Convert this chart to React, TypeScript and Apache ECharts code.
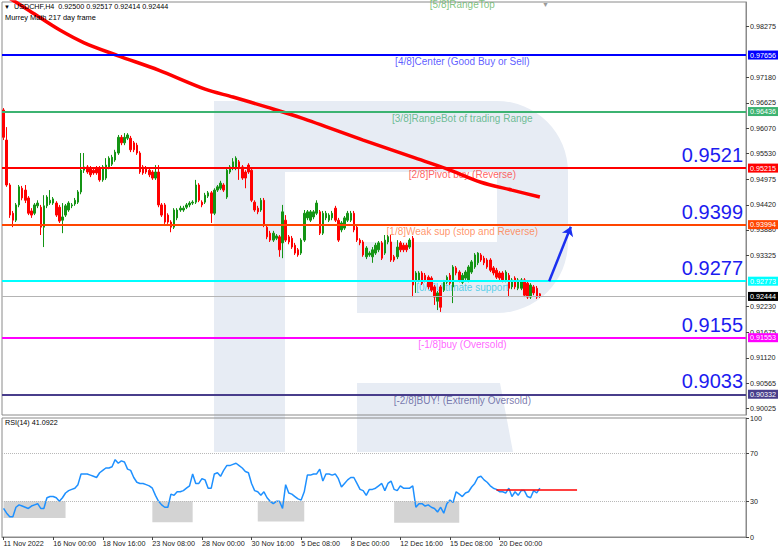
import React, { useEffect, useRef } from "react";
import * as echarts from "echarts";

const FONT = "'Liberation Sans', Arial, sans-serif";

// ---- time axis ----
const slotCount = 240;
const tickStep = 16;
const tickLabels = ["11 Nov 2022", "16 Nov 00:00", "18 Nov 16:00", "23 Nov 08:00", "28 Nov 00:00", "30 Nov 16:00", "5 Dec 08:00", "8 Dec 00:00", "12 Dec 16:00", "15 Dec 08:00", "20 Dec 00:00"];

// ---- price axis ----
const yMin = 0.89884;
const yMax = 0.98801;
const priceTicks = [0.98275, 0.9718, 0.96625, 0.9607, 0.9553, 0.94975, 0.9442, 0.9388, 0.93325, 0.9223, 0.91675, 0.9112, 0.90565, 0.90025];
const rsiTicks = [0, 30, 70, 100];

// ---- candles: [open, close, low, high] ----
const candles = [
  [0.9647, 0.9588, 0.9582, 0.9651], [0.9582, 0.9485, 0.9481, 0.961], [0.9485, 0.942, 0.9414, 0.9489], [0.9424, 0.9409, 0.9394, 0.9429],
  [0.9409, 0.9442, 0.9405, 0.9446], [0.9442, 0.9481, 0.9437, 0.9485], [0.9478, 0.9457, 0.9452, 0.9483], [0.9474, 0.9452, 0.9446, 0.9485],
  [0.9457, 0.9424, 0.942, 0.9461], [0.9429, 0.942, 0.9414, 0.9435], [0.9424, 0.9442, 0.942, 0.9446], [0.944, 0.9446, 0.9435, 0.9452],
  [0.9437, 0.9394, 0.9377, 0.9442], [0.9394, 0.944, 0.9351, 0.9463], [0.944, 0.9459, 0.9435, 0.9463], [0.9446, 0.9452, 0.9442, 0.9474],
  [0.9446, 0.9455, 0.9442, 0.9459], [0.9446, 0.942, 0.9416, 0.945], [0.9437, 0.9407, 0.9403, 0.9442], [0.9409, 0.9416, 0.9381, 0.9446],
  [0.942, 0.944, 0.9416, 0.9444], [0.9431, 0.9446, 0.9427, 0.945], [0.944, 0.9442, 0.9435, 0.9446], [0.9444, 0.9452, 0.944, 0.9457],
  [0.9448, 0.947, 0.9444, 0.9474], [0.947, 0.9517, 0.9465, 0.9554], [0.9517, 0.9524, 0.9511, 0.9554], [0.9524, 0.9513, 0.9509, 0.9528],
  [0.9522, 0.9507, 0.9502, 0.9526], [0.9517, 0.9511, 0.9507, 0.9522], [0.9522, 0.9511, 0.9507, 0.9526], [0.9522, 0.9496, 0.9492, 0.9526],
  [0.9496, 0.9524, 0.9492, 0.9528], [0.95, 0.9528, 0.9496, 0.9543], [0.9524, 0.9543, 0.9519, 0.9547], [0.953, 0.9545, 0.9526, 0.955],
  [0.9539, 0.9556, 0.9535, 0.9561], [0.9554, 0.9588, 0.955, 0.9593], [0.9588, 0.9576, 0.9571, 0.9593], [0.9576, 0.9588, 0.9571, 0.9597],
  [0.9586, 0.9593, 0.9582, 0.9597], [0.9586, 0.9561, 0.9556, 0.9591], [0.9576, 0.9561, 0.9556, 0.958], [0.9571, 0.9554, 0.955, 0.9576],
  [0.9554, 0.9513, 0.9509, 0.9558], [0.9524, 0.9511, 0.9507, 0.9528], [0.9522, 0.9513, 0.9509, 0.9526], [0.9517, 0.9507, 0.9502, 0.9522],
  [0.9513, 0.95, 0.9496, 0.9517], [0.95, 0.9513, 0.9496, 0.9528], [0.9513, 0.9442, 0.9437, 0.9528], [0.9442, 0.942, 0.9416, 0.9446],
  [0.9442, 0.9405, 0.9401, 0.9446], [0.942, 0.9405, 0.9401, 0.9424], [0.9405, 0.9394, 0.9383, 0.9409], [0.9394, 0.9431, 0.939, 0.9435],
  [0.9414, 0.9431, 0.9409, 0.9435], [0.9431, 0.9435, 0.9427, 0.944], [0.9431, 0.9435, 0.9427, 0.944], [0.9437, 0.9442, 0.9433, 0.9446],
  [0.9442, 0.9446, 0.9437, 0.945], [0.9446, 0.9448, 0.9442, 0.9452], [0.9448, 0.9485, 0.9444, 0.9496], [0.9485, 0.9452, 0.9448, 0.9489],
  [0.9448, 0.9442, 0.9437, 0.9452], [0.9448, 0.9463, 0.9444, 0.9468], [0.9461, 0.9468, 0.9457, 0.9472], [0.9468, 0.9424, 0.9403, 0.9472],
  [0.9424, 0.9474, 0.942, 0.9478], [0.9474, 0.9481, 0.947, 0.9485], [0.9478, 0.9489, 0.9474, 0.9494], [0.9485, 0.9474, 0.947, 0.9489],
  [0.9459, 0.9517, 0.9455, 0.9522], [0.9513, 0.9524, 0.9509, 0.9528], [0.9522, 0.9535, 0.9517, 0.9543], [0.9522, 0.9543, 0.9517, 0.9547],
  [0.9535, 0.9522, 0.9496, 0.9539], [0.9524, 0.95, 0.9496, 0.9528], [0.9513, 0.95, 0.9478, 0.9517], [0.9528, 0.9513, 0.9509, 0.9532],
  [0.9517, 0.9452, 0.9448, 0.9522], [0.9448, 0.9431, 0.9427, 0.9452], [0.9435, 0.9427, 0.9422, 0.944], [0.9431, 0.9452, 0.9427, 0.9457],
  [0.9452, 0.9399, 0.9394, 0.9457], [0.9394, 0.9373, 0.9368, 0.9399], [0.9381, 0.9366, 0.9362, 0.9386], [0.9366, 0.9381, 0.9362, 0.9386],
  [0.937, 0.9375, 0.9366, 0.9379], [0.9373, 0.9345, 0.933, 0.9377], [0.936, 0.9427, 0.9327, 0.9442], [0.9409, 0.9366, 0.9362, 0.942],
  [0.9373, 0.9362, 0.9357, 0.9377], [0.937, 0.9351, 0.9347, 0.9375], [0.9355, 0.9338, 0.9334, 0.936], [0.9345, 0.9334, 0.933, 0.9349],
  [0.9338, 0.9366, 0.9334, 0.937], [0.9366, 0.9424, 0.9362, 0.9431], [0.9414, 0.9427, 0.9409, 0.9431], [0.9409, 0.9427, 0.9405, 0.9431],
  [0.9416, 0.9427, 0.9411, 0.9431], [0.9424, 0.9446, 0.942, 0.9452], [0.9427, 0.9381, 0.9377, 0.9431], [0.9381, 0.9424, 0.9377, 0.9429],
  [0.9414, 0.9424, 0.9409, 0.9429], [0.9409, 0.942, 0.9405, 0.9424], [0.9414, 0.9424, 0.9409, 0.9429], [0.9435, 0.9409, 0.9405, 0.944],
  [0.9409, 0.9366, 0.9362, 0.9414], [0.9388, 0.9403, 0.9383, 0.9407], [0.9392, 0.9414, 0.9388, 0.9418], [0.9409, 0.9424, 0.9405, 0.9429],
  [0.9409, 0.9424, 0.9405, 0.9429], [0.9424, 0.9388, 0.9383, 0.9429], [0.9394, 0.9366, 0.9362, 0.9399], [0.9366, 0.936, 0.9355, 0.937],
  [0.9362, 0.9334, 0.933, 0.9366], [0.933, 0.9349, 0.9325, 0.9353], [0.9334, 0.9338, 0.933, 0.9342], [0.933, 0.9345, 0.9317, 0.9351],
  [0.9338, 0.9355, 0.9334, 0.936], [0.9345, 0.936, 0.934, 0.9364], [0.936, 0.9327, 0.9323, 0.9364], [0.9338, 0.9366, 0.9334, 0.9377],
  [0.9362, 0.9373, 0.9357, 0.9377], [0.9362, 0.9323, 0.9319, 0.9377], [0.933, 0.9323, 0.9319, 0.9334], [0.933, 0.9351, 0.9325, 0.9366],
  [0.936, 0.9345, 0.934, 0.9364], [0.9355, 0.9345, 0.934, 0.936], [0.9355, 0.9345, 0.934, 0.936], [0.9351, 0.9366, 0.9347, 0.937],
  [0.937, 0.9269, 0.9243, 0.9375], [0.928, 0.9295, 0.9252, 0.9299], [0.928, 0.9295, 0.9275, 0.9299], [0.9295, 0.9273, 0.9269, 0.9299],
  [0.929, 0.928, 0.9275, 0.9295], [0.9286, 0.9265, 0.926, 0.929], [0.9284, 0.9258, 0.9254, 0.9288], [0.9265, 0.9243, 0.9226, 0.9269],
  [0.9234, 0.9252, 0.9215, 0.9256], [0.9265, 0.9221, 0.9211, 0.9269], [0.9258, 0.9275, 0.9254, 0.928], [0.9275, 0.9286, 0.9271, 0.929],
  [0.929, 0.9273, 0.9269, 0.9295], [0.9265, 0.9308, 0.923, 0.9312], [0.9306, 0.9295, 0.929, 0.931], [0.9297, 0.928, 0.9275, 0.9301],
  [0.9275, 0.929, 0.9271, 0.9295], [0.9284, 0.9297, 0.928, 0.9301], [0.928, 0.9308, 0.9275, 0.9312], [0.9297, 0.9319, 0.9293, 0.9323],
  [0.9308, 0.9334, 0.9304, 0.9338], [0.9317, 0.9338, 0.9312, 0.934], [0.9334, 0.9323, 0.9319, 0.9338], [0.9327, 0.9317, 0.9312, 0.9332],
  [0.9323, 0.9308, 0.9304, 0.9327], [0.9323, 0.9301, 0.9297, 0.9327], [0.9306, 0.9295, 0.929, 0.931], [0.9301, 0.9286, 0.9282, 0.9306],
  [0.9295, 0.9284, 0.928, 0.9299], [0.9295, 0.928, 0.9275, 0.9299], [0.928, 0.9297, 0.9275, 0.9301], [0.929, 0.9262, 0.9243, 0.9295],
  [0.9265, 0.928, 0.926, 0.9284], [0.9284, 0.9265, 0.926, 0.9288], [0.9262, 0.928, 0.9258, 0.9284], [0.9262, 0.928, 0.9258, 0.9284],
  [0.928, 0.9247, 0.9243, 0.9284], [0.9273, 0.9243, 0.9239, 0.9277], [0.9243, 0.9269, 0.9239, 0.9273], [0.9265, 0.9252, 0.9247, 0.9269],
  [0.9262, 0.9243, 0.9239, 0.9267], [0.925, 0.92444, 0.92414, 0.92517],
];

// ---- moving average (read at selected bars) ----
const maPoints = [
  [0, 0.9895], [3, 0.9884], [10, 0.9854], [18, 0.982], [26, 0.9792], [37, 0.9764], [50, 0.9733], [65, 0.9692], [74, 0.9675],
  [85, 0.9653], [96, 0.963], [116, 0.9582], [132, 0.9545], [143, 0.952], [154, 0.9491], [164, 0.9474], [173, 0.9459],
];

// ---- RSI(14) ----
const rsi = [
  24, 20, 17, 17, 25, 27, 26, 25, 24, 26,
  27, 28, 24, 24, 33, 34, 34, 33, 30, 33,
  37, 39, 40, 41, 44, 53, 53, 53, 52, 51,
  50, 54, 56, 58, 58, 59, 65, 62, 64, 63,
  57, 56, 50, 46, 45, 45, 44, 43, 41, 35,
  30, 27, 25, 25, 36, 35, 38, 38, 39, 41,
  43, 53, 45, 45, 49, 48, 41, 41, 53, 54,
  51, 56, 60, 60, 61, 62, 60, 58, 55, 54,
  45, 39, 38, 35, 38, 33, 30, 28, 30, 30,
  24, 44, 37, 36, 34, 32, 31, 38, 52, 52,
  53, 53, 57, 47, 53, 53, 52, 53, 49, 42,
  45, 48, 50, 50, 45, 40, 39, 35, 40, 40,
  41, 43, 45, 39, 45, 47, 40, 39, 43, 41,
  41, 41, 43, 25, 28, 28, 26, 27, 25, 24,
  21, 25, 20, 28, 31, 29, 38, 36, 34, 37,
  38, 42, 45, 50, 51, 48, 46, 43, 41, 40,
  38, 38, 37, 41, 34, 38, 35, 39, 39, 34,
  33, 39, 37, 41.0922,
];
// oversold boxes: [fromBar, toBar, lowValue]
const rsiBoxes = [[0, 20, 16], [48, 61, 12.5], [82, 97, 13], [126, 147, 12]];
const rsiSignal = { from: 159, to: 185, value: 40 };

// ---- Murrey Math levels ----
const levels = [
  { label: "[5/8]RangeTop", value: 0.98877, line: "#3cb371", text: "#5fb35f", box: false, big: false },
  { label: "[4/8]Center (Good Buy or Sell)", value: 0.97656, line: "#0000ff", text: "#3535ff", box: true, big: false },
  { label: "[3/8]RangeBot of trading Range", value: 0.96436, line: "#3cb371", text: "#4caf7a", box: true, big: false },
  { label: "[2/8]Pivot buy (Reverse)", value: 0.95215, line: "#ff0000", text: "#ff3a3a", box: true, big: true },
  { label: "[1/8]Weak sup (stop and Reverse)", value: 0.93994, line: "#ff4500", text: "#ff7a45", box: true, big: true },
  { label: "[0/8]Ultimate support", value: 0.92773, line: "#00ffff", text: "#2ec8e8", box: true, big: true },
  { label: "[-1/8]buy (Oversold)", value: 0.91553, line: "#ff00ff", text: "#ff40ff", box: true, big: true },
  { label: "[-2/8]BUY! (Extremly Oversold)", value: 0.90332, line: "#483d8b", text: "#5a5a9a", box: true, big: true },
];
const labelBar = 148;
const arrowLine = [[176, 0.9277], [183, 0.9395]];

const UP = "#149414";
const DOWN = "#ff0000";

// watermark "R"
const watermarkPath =
  "M214 101 L497 101 A71 71 0 0 1 568 172 L568 242 A71 71 0 0 1 497 313 L357 313 L357 242 L497 242 L497 172 L285 172 L285 452 L214 452 Z " +
  "M357 383 L500 383 L513 452 L357 452 Z";
echarts.graphic.registerShape("logo", echarts.graphic.extendPath(watermarkPath, {}));

function buildOption() {
  const cats = Array.from({ length: slotCount }, (_, i) => String(i));
  const tickInterval = (i: number) => i % tickStep === 0 && i / tickStep < tickLabels.length;
  const last = candles[candles.length - 1];
  const lastPrice = last[1];
  const fmt5 = (v: number) => v.toFixed(5);

  const boxLabel = (text: string, bg: string) => ({
    show: true, position: "end", distance: 2, formatter: text, color: "#ffffff",
    backgroundColor: bg, padding: [1, 2, 0, 2], lineHeight: 8, fontSize: 7.2, fontFamily: FONT,
  });

  const lineItems: any[] = [];
  levels.filter((l) => l.box).forEach((l) => {
    lineItems.push({ yAxis: l.value, lineStyle: { color: l.line, width: 2, type: "solid" }, label: boxLabel(fmt5(l.value), l.line) });
  });
  lineItems.push({ yAxis: lastPrice, lineStyle: { color: "#b4b4b4", width: 1, type: "solid" }, label: boxLabel(fmt5(lastPrice), "#000000") });
  levels.filter((l) => l.big).forEach((l) => {
    lineItems.push({
      yAxis: l.value,
      lineStyle: { color: "rgba(0,0,0,0)", width: 1, type: "solid" },
      label: {
        show: true, position: "insideEndTop", distance: 3,
        formatter: (Math.floor(l.value * 10000) / 10000).toFixed(4),
        color: "#1c1cf0", fontSize: 20, fontFamily: FONT,
      },
    });
  });

  return {
    animation: false,
    backgroundColor: "#ffffff",
    textStyle: { fontFamily: FONT },
    grid: [
      { left: 2, right: 36, top: 2, height: 413, show: true, borderColor: "#8a8a8a", borderWidth: 1, backgroundColor: "transparent" },
      { left: 2, right: 36, top: 418, height: 119, show: true, borderColor: "#8a8a8a", borderWidth: 1, backgroundColor: "transparent" },
    ],
    xAxis: [
      {
        type: "category", gridIndex: 0, data: cats, boundaryGap: true,
        axisLine: { show: false }, axisTick: { show: false }, axisLabel: { show: false }, splitLine: { show: false },
      },
      {
        type: "category", gridIndex: 1, data: cats, boundaryGap: true,
        axisLine: { show: true, lineStyle: { color: "#8a8a8a" } },
        axisTick: { show: true, interval: tickInterval, alignWithLabel: true, length: 3, lineStyle: { color: "#444" } },
        axisLabel: {
          show: true, interval: tickInterval, align: "left", fontSize: 7.2, color: "#222", margin: 3, fontFamily: FONT,
          formatter: (_v: string, i: number) => tickLabels[Math.round(i / tickStep)] || "",
        },
        splitLine: { show: false },
      },
    ],
    yAxis: [
      {
        type: "value", gridIndex: 0, position: "right", min: yMin, max: yMax,
        splitLine: { show: false },
        axisLine: { show: true, lineStyle: { color: "#8a8a8a" } },
        axisTick: { show: true, customValues: priceTicks, length: 3, lineStyle: { color: "#444" } },
        axisLabel: { show: true, customValues: priceTicks, formatter: fmt5, fontSize: 7.2, color: "#222", margin: 4, fontFamily: FONT },
      },
      {
        type: "value", gridIndex: 1, position: "right", min: 0, max: 100,
        splitLine: { show: false },
        axisLine: { show: true, lineStyle: { color: "#8a8a8a" } },
        axisTick: { show: true, customValues: rsiTicks, length: 3, lineStyle: { color: "#444" } },
        axisLabel: { show: true, customValues: rsiTicks, formatter: (v: number) => String(v), fontSize: 7.2, color: "#222", margin: 4, fontFamily: FONT },
      },
    ],
    series: [
      {
        type: "scatter", name: "levels text", xAxisIndex: 0, yAxisIndex: 0, z: 2, silent: true, clip: false,
        symbolSize: 1, itemStyle: { color: "rgba(0,0,0,0)" },
        data: levels.map((l) => ({ value: [labelBar, l.value], label: { color: l.text } })),
        label: {
          show: true, position: "bottom", distance: 1, fontSize: 10, fontFamily: FONT,
          formatter: (p: any) => levels[p.dataIndex].label,
        },
      },
      {
        type: "candlestick", name: "USDCHF", xAxisIndex: 0, yAxisIndex: 0, z: 3, data: candles, barWidth: 2,
        itemStyle: { color: UP, color0: DOWN, borderColor: UP, borderColor0: DOWN, borderWidth: 1 },
        markLine: { silent: true, precision: 5, symbol: ["none", "none"], animation: false, data: lineItems },
      },
      {
        type: "line", name: "MA", xAxisIndex: 0, yAxisIndex: 0, z: 4, data: maPoints, smooth: 0.3,
        showSymbol: false, lineStyle: { color: "#ff0000", width: 3.5 }, silent: true,
      },
      {
        type: "line", name: "arrow", xAxisIndex: 0, yAxisIndex: 0, z: 4, data: [],
        markLine: {
          silent: true, animation: false, precision: 5, symbol: ["none", "arrow"], symbolSize: 9,
          lineStyle: { color: "#1a2ff0", width: 2.5, type: "solid" }, label: { show: false },
          data: [[{ coord: arrowLine[0] }, { coord: arrowLine[1] }]],
        },
      },
      {
        type: "line", name: "rsi marks", xAxisIndex: 1, yAxisIndex: 1, z: 1, data: [],
        markArea: {
          silent: true, itemStyle: { color: "#d3d3d3" },
          data: rsiBoxes.map((b) => [{ coord: [b[0], 30] }, { coord: [b[1], b[2]] }]),
        },
        markLine: {
          silent: true, animation: false, precision: 5, symbol: ["none", "none"], label: { show: false },
          data: [
            { yAxis: 70, lineStyle: { color: "#b8b8b8", type: "dotted", width: 1 } },
            { yAxis: 30, lineStyle: { color: "#b8b8b8", type: "dotted", width: 1 } },
            [
              { coord: [rsiSignal.from, rsiSignal.value], lineStyle: { color: "#ff0000", width: 1.5, type: "solid" } },
              { coord: [rsiSignal.to, rsiSignal.value] },
            ],
          ],
        },
      },
      {
        type: "line", name: "RSI(14)", xAxisIndex: 1, yAxisIndex: 1, z: 3, data: rsi,
        showSymbol: false, lineStyle: { color: "#1e90ff", width: 1.5 }, silent: true,
      },
    ],
    graphic: [
      { type: "logo", x: 0, y: 0, z: -10, silent: true, style: { fill: "#e7ecf4" } },
      { type: "text", x: 4, y: 4, z: 10, style: { text: "▼", fontSize: 6, fill: "#000", fontFamily: FONT } },
      {
        type: "text", x: 14, y: 3, z: 10,
        style: {
          text: `USDCHF,H4  ${last[0].toFixed(5)} ${last[3].toFixed(5)} ${last[2].toFixed(5)} ${last[1].toFixed(5)}`,
          fontSize: 7.2, fill: "#000", fontFamily: FONT,
        },
      },
      { type: "text", x: 5, y: 14, z: 10, style: { text: "Murrey Math 217 day frame", fontSize: 7.4, fill: "#000", fontFamily: FONT } },
      { type: "text", x: 542, y: 1, z: 10, style: { text: "▼", fontSize: 7, fill: "#9a9a9a", fontFamily: FONT } },
      { type: "text", x: 5, y: 419, z: 10, style: { text: `RSI(14) ${rsi[rsi.length - 1].toFixed(4)}`, fontSize: 7.2, fill: "#000", fontFamily: FONT } },
    ],
  };
}

export default function App() {
  const ref = useRef<HTMLDivElement>(null);
  useEffect(() => {
    document.body.style.margin = "0";
    const chart = echarts.init(ref.current as HTMLDivElement, null, { renderer: "svg" });
    chart.setOption(buildOption() as any);
    return () => chart.dispose();
  }, []);
  return <div ref={ref} style={{ width: 782, height: 555, background: "#ffffff" }} />;
}
